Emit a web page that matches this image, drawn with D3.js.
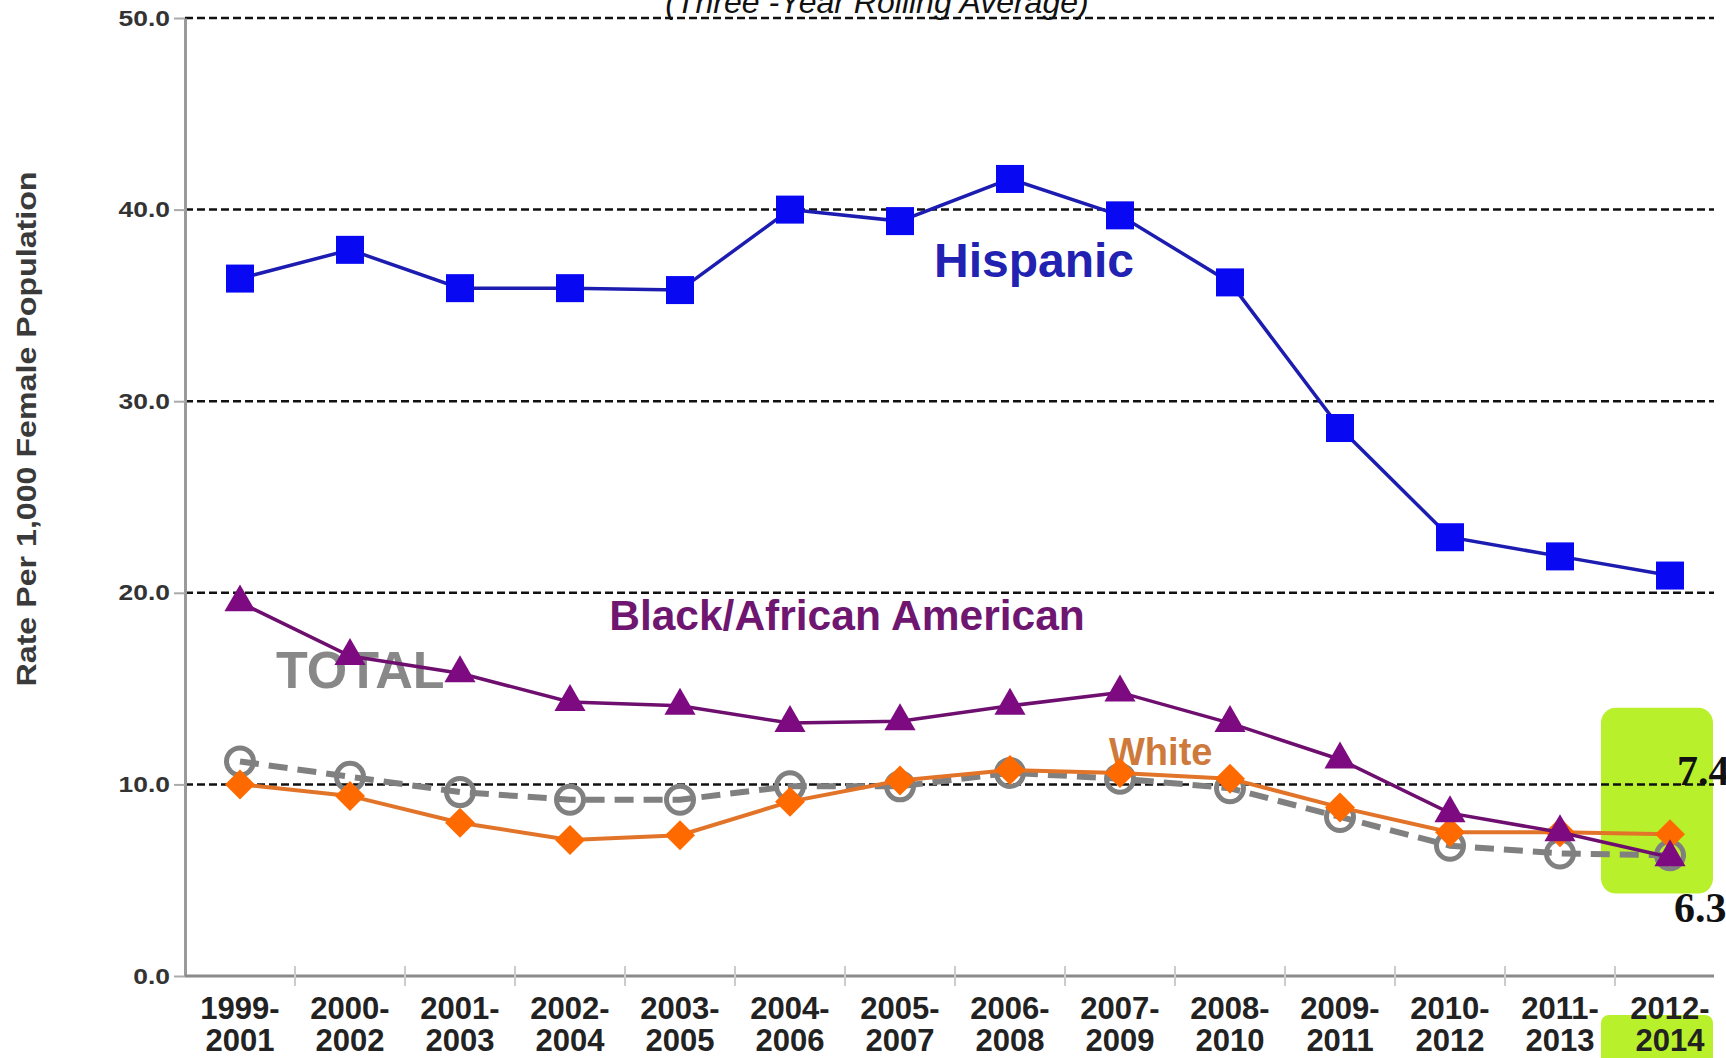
<!DOCTYPE html>
<html>
<head>
<meta charset="utf-8">
<script src="https://cdn.jsdelivr.net/npm/d3@7"></script>
<style>
  body { margin: 0; background: #fff; }
  svg { display: block; }
</style>
</head>
<body>
<div id="chart"></div>
<script>
// three-year rolling periods
const periods = ["1999-2001", "2000-2002", "2001-2003", "2002-2004", "2003-2005", "2004-2006", "2005-2007",
                 "2006-2008", "2007-2009", "2008-2010", "2009-2011", "2010-2012", "2011-2013", "2012-2014"]

const hispanic = [36.4, 37.9, 35.9, 35.9, 35.8, 40.0, 39.4, 41.6, 39.7, 36.2, 28.6, 22.9, 21.9, 20.9]
const black    = [19.5, 16.7, 15.8, 14.3, 14.1, 13.2, 13.3, 14.1, 14.8, 13.2, 11.3, 8.5, 7.5, 6.2]
const total    = [11.2, 10.4, 9.6, 9.2, 9.2, 9.9, 9.9, 10.6, 10.3, 9.8, 8.3, 6.8, 6.4, 6.3]
const white    = [10.0, 9.4, 8.0, 7.1, 7.35, 9.1, 10.2, 10.75, 10.6, 10.3, 8.8, 7.5, 7.5, 7.4]

const yTicks = [0, 10, 20, 30, 40, 50]

const title = "(Three -Year Rolling Average)"
const yLabel = "Rate Per 1,000 Female Population"

const W = 1726, H = 1058
const plotLeft = 185, plotRight = 1714, plotTop = 18, plotBottom = 976

const svg = d3.select("#chart").append("svg")
    .attr("width", W)
    .attr("height", H)

const x = d3.scaleBand().domain(periods).range([plotLeft, plotLeft + 110 * periods.length])
const cx = d => x(d) + x.bandwidth() / 2
const y = d3.scaleLinear().domain([0, 50]).range([plotBottom, plotTop])

const last = periods[periods.length - 1]

// highlight boxes for latest period
svg.append("rect")
    .attr("x", cx(last) - 69).attr("y", y(14.0))
    .attr("width", 112).attr("height", y(4.3) - y(14.0))
    .attr("rx", 15)
    .attr("fill", "#b9f02c")
svg.append("rect")
    .attr("x", cx(last) - 69).attr("y", 1015)
    .attr("width", 112).attr("height", 60)
    .attr("rx", 8)
    .attr("fill", "#b9f02c")

// gridlines
svg.append("g").selectAll("line")
    .data(yTicks.filter(d => d > 0))
    .join("line")
    .attr("x1", plotLeft).attr("x2", plotRight)
    .attr("y1", d => y(d)).attr("y2", d => y(d))
    .attr("stroke", "#111")
    .attr("stroke-width", 2.5)
    .attr("stroke-dasharray", "8,4")

// y axis
const yAxis = svg.append("g")
    .attr("transform", `translate(${plotLeft},0)`)
    .call(d3.axisLeft(y).tickValues(yTicks).tickFormat(d3.format(".1f")).tickSize(11).tickSizeOuter(0).tickPadding(4))
yAxis.select(".domain").attr("stroke", "#9a9a9a").attr("stroke-width", 3)
yAxis.selectAll(".tick line").attr("stroke", "#aaa").attr("stroke-width", 2)
yAxis.selectAll(".tick text")
    .attr("font-family", "Liberation Sans, Arial, sans-serif")
    .attr("font-weight", "bold")
    .attr("font-size", 22)
    .attr("fill", "#333")
    .each(function () {
        // the original labels are a little wider than Arial
        const w = this.getComputedTextLength()
        d3.select(this).attr("textLength", w * 1.2).attr("lengthAdjust", "spacingAndGlyphs")
    })

// x axis
const xAxis = svg.append("g")
    .attr("transform", `translate(0,${plotBottom})`)
    .call(d3.axisBottom(x).tickSize(0).tickPadding(0))
xAxis.select(".domain").remove()
xAxis.append("line")
    .attr("x1", plotLeft).attr("x2", plotRight)
    .attr("stroke", "#8a8a8a").attr("stroke-width", 3)
xAxis.selectAll(".bound")
    .data(periods.slice(1))
    .join("line")
    .attr("class", "bound")
    .attr("x1", d => x(d)).attr("x2", d => x(d))
    .attr("y1", -10).attr("y2", 10)
    .attr("stroke", "#ccc").attr("stroke-width", 2)
xAxis.selectAll(".tick text")
    .attr("font-family", "Liberation Sans, Arial, sans-serif")
    .attr("font-weight", "bold")
    .attr("font-size", 31)
    .attr("fill", "#222")
    .attr("dy", null)
    .attr("y", 0)
    .text(null)
    .each(function (d) {
        const [a, b] = d.split("-")
        const t = d3.select(this)
        t.append("tspan").attr("x", 0).attr("y", 43).text(a + "-")
        t.append("tspan").attr("x", 0).attr("y", 75).text(b)
    })

// title and axis label
svg.append("text")
    .attr("x", 877).attr("y", 13)
    .attr("text-anchor", "middle")
    .attr("font-family", "Liberation Sans, Arial, sans-serif")
    .attr("font-style", "italic")
    .attr("font-size", 32)
    .attr("fill", "#111")
    .text(title)

svg.append("text")
    .attr("transform", "translate(36,429) rotate(-90)")
    .attr("text-anchor", "middle")
    .attr("font-family", "Liberation Sans, Arial, sans-serif")
    .attr("font-weight", "bold")
    .attr("font-size", 28)
    .attr("textLength", 515)
    .attr("lengthAdjust", "spacingAndGlyphs")
    .attr("fill", "#3a3a3a")
    .text(yLabel)

// series labels
const labels = [
    { text: "Hispanic", x: 1034, y: 277, size: 48, color: "#2222b2", anchor: "middle" },
    { text: "Black/African American", x: 847, y: 630, size: 42.5, color: "#6e1670", anchor: "middle" },
    { text: "TOTAL", x: 276, y: 688, size: 52, color: "#888", anchor: "start" },
    { text: "White", x: 1109, y: 765, size: 38, color: "#cd7a3c", anchor: "start" }
]
svg.append("g").selectAll("text")
    .data(labels)
    .join("text")
    .attr("x", d => d.x).attr("y", d => d.y)
    .attr("text-anchor", d => d.anchor)
    .attr("font-family", "Liberation Sans, Arial, sans-serif")
    .attr("font-weight", "bold")
    .attr("font-size", d => d.size)
    .attr("fill", d => d.color)
    .text(d => d.text)

const line = d3.line()
    .x((d, i) => cx(periods[i]))
    .y(d => y(d))

const drawLine = (vals, color, width, dash) =>
    svg.append("path")
        .datum(vals)
        .attr("d", line)
        .attr("fill", "none")
        .attr("stroke", color)
        .attr("stroke-width", width)
        .attr("stroke-dasharray", dash)

// Hispanic
drawLine(hispanic, "#1c1cb0", 3.5, null)
svg.append("g").selectAll("rect")
    .data(hispanic)
    .join("rect")
    .attr("x", (d, i) => cx(periods[i]) - 14)
    .attr("y", d => y(d) - 14)
    .attr("width", 28).attr("height", 28)
    .attr("fill", "#0808f2")

// Total
drawLine(total, "#808080", 6, "19,10")
svg.append("g").selectAll("circle")
    .data(total)
    .join("circle")
    .attr("cx", (d, i) => cx(periods[i]))
    .attr("cy", d => y(d))
    .attr("r", 13.5)
    .attr("fill", "none")
    .attr("stroke", "#808080")
    .attr("stroke-width", 5)

// White
drawLine(white, "#e2742a", 4, null)
svg.append("g").selectAll("path")
    .data(white)
    .join("path")
    .attr("d", d3.symbol(d3.symbolSquare, 450))
    .attr("transform", (d, i) => `translate(${cx(periods[i])},${y(d)}) rotate(45)`)
    .attr("fill", "#ff6a00")

// Black
drawLine(black, "#6e0f70", 3.5, null)
svg.append("g").selectAll("path")
    .data(black)
    .join("path")
    .attr("d", d3.symbol(d3.symbolTriangle, 420))
    .attr("transform", (d, i) => `translate(${cx(periods[i])},${y(d)})`)
    .attr("fill", "#7d0a80")

// latest values
const fmt = d3.format(".1f")
const endLabels = [
    { value: white[white.length - 1], dx: 7, y: 785 },
    { value: total[total.length - 1], dx: 4, y: 922 }
]
svg.append("g").selectAll("text")
    .data(endLabels)
    .join("text")
    .attr("x", d => cx(last) + d.dx)
    .attr("y", d => d.y)
    .attr("font-family", "Liberation Serif, Times New Roman, serif")
    .attr("font-weight", "bold")
    .attr("font-size", 42)
    .attr("fill", "#111")
    .text(d => fmt(d.value))
</script>
</body>
</html>
